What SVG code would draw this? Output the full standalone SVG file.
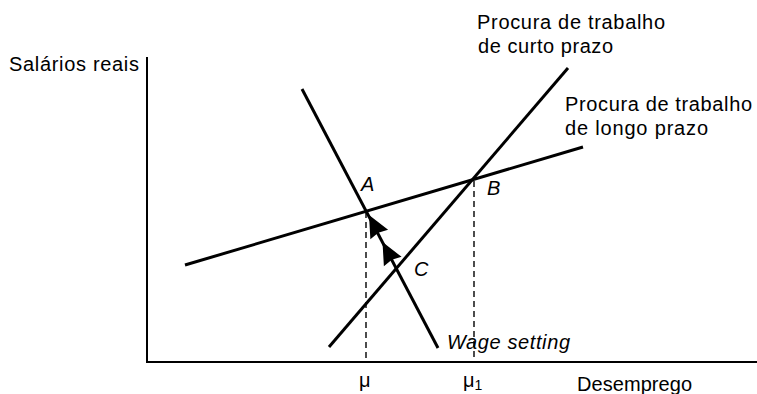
<svg xmlns="http://www.w3.org/2000/svg" xmlns:xlink="http://www.w3.org/1999/xlink" width="757" height="394" viewBox="0 0 757 394">
<style>
  .t { font-family: "Liberation Sans", Arial, sans-serif; font-size: 20px; fill: #000; }
  .i { font-style: italic; }
  .curve { stroke: #000; stroke-width: 3; fill: none; stroke-linecap: butt; }
  .axis { stroke: #000; stroke-width: 2; fill: none; }
  .dash { stroke: #000; stroke-width: 1.4; stroke-dasharray: 6 4; fill: none; }
</style>
<defs>
  <path id="ah" d="M0,0 L-22,-10 L-20,0 L-22,10 Z" fill="#000"/>
</defs>
<rect width="757" height="394" fill="#fff"/>
<g id="axes">
  <line class="axis" x1="147" y1="57" x2="147" y2="362"/>
  <line class="axis" x1="146" y1="362" x2="757" y2="362"/>
  <text class="t" x="9" y="71" textLength="130" lengthAdjust="spacing">Salários reais</text>
  <text class="t" x="577" y="391" textLength="115" lengthAdjust="spacing">Desemprego</text>
  <text class="t" x="359" y="387">μ</text>
  <text class="t" x="463" y="387">μ<tspan font-size="14" dy="3">1</tspan></text>
</g>
<g id="long-run-demand">
  <line class="curve" x1="185" y1="265" x2="583" y2="147"/>
  <text class="t" x="565" y="111" textLength="187" lengthAdjust="spacing">Procura de trabalho</text>
  <text class="t" x="565" y="135" textLength="143" lengthAdjust="spacing">de longo prazo</text>
</g>
<g id="short-run-demand">
  <line class="curve" x1="329" y1="347" x2="568" y2="68"/>
  <text class="t" x="477" y="29" textLength="188" lengthAdjust="spacing">Procura de trabalho</text>
  <text class="t" x="478" y="53" textLength="135" lengthAdjust="spacing">de curto prazo</text>
</g>
<g id="wage-setting">
  <line class="curve" x1="302" y1="89" x2="438" y2="348"/>
  <text class="t i" x="447" y="349" textLength="123" lengthAdjust="spacing">Wage setting</text>
</g>
<g id="point-A"><text class="t i" x="361" y="191">A</text></g>
<g id="point-B"><text class="t i" x="487" y="195">B</text></g>
<g id="point-C"><text class="t i" x="414" y="276">C</text></g>
<g id="connectors">
  <line class="dash" x1="366" y1="212" x2="366" y2="362"/>
  <line class="dash" x1="474" y1="181" x2="474" y2="362"/>
  <use xlink:href="#ah" transform="translate(369,215) rotate(-117.7)"/>
  <use xlink:href="#ah" transform="translate(382.5,242) rotate(-117.7)"/>
</g>
</svg>
